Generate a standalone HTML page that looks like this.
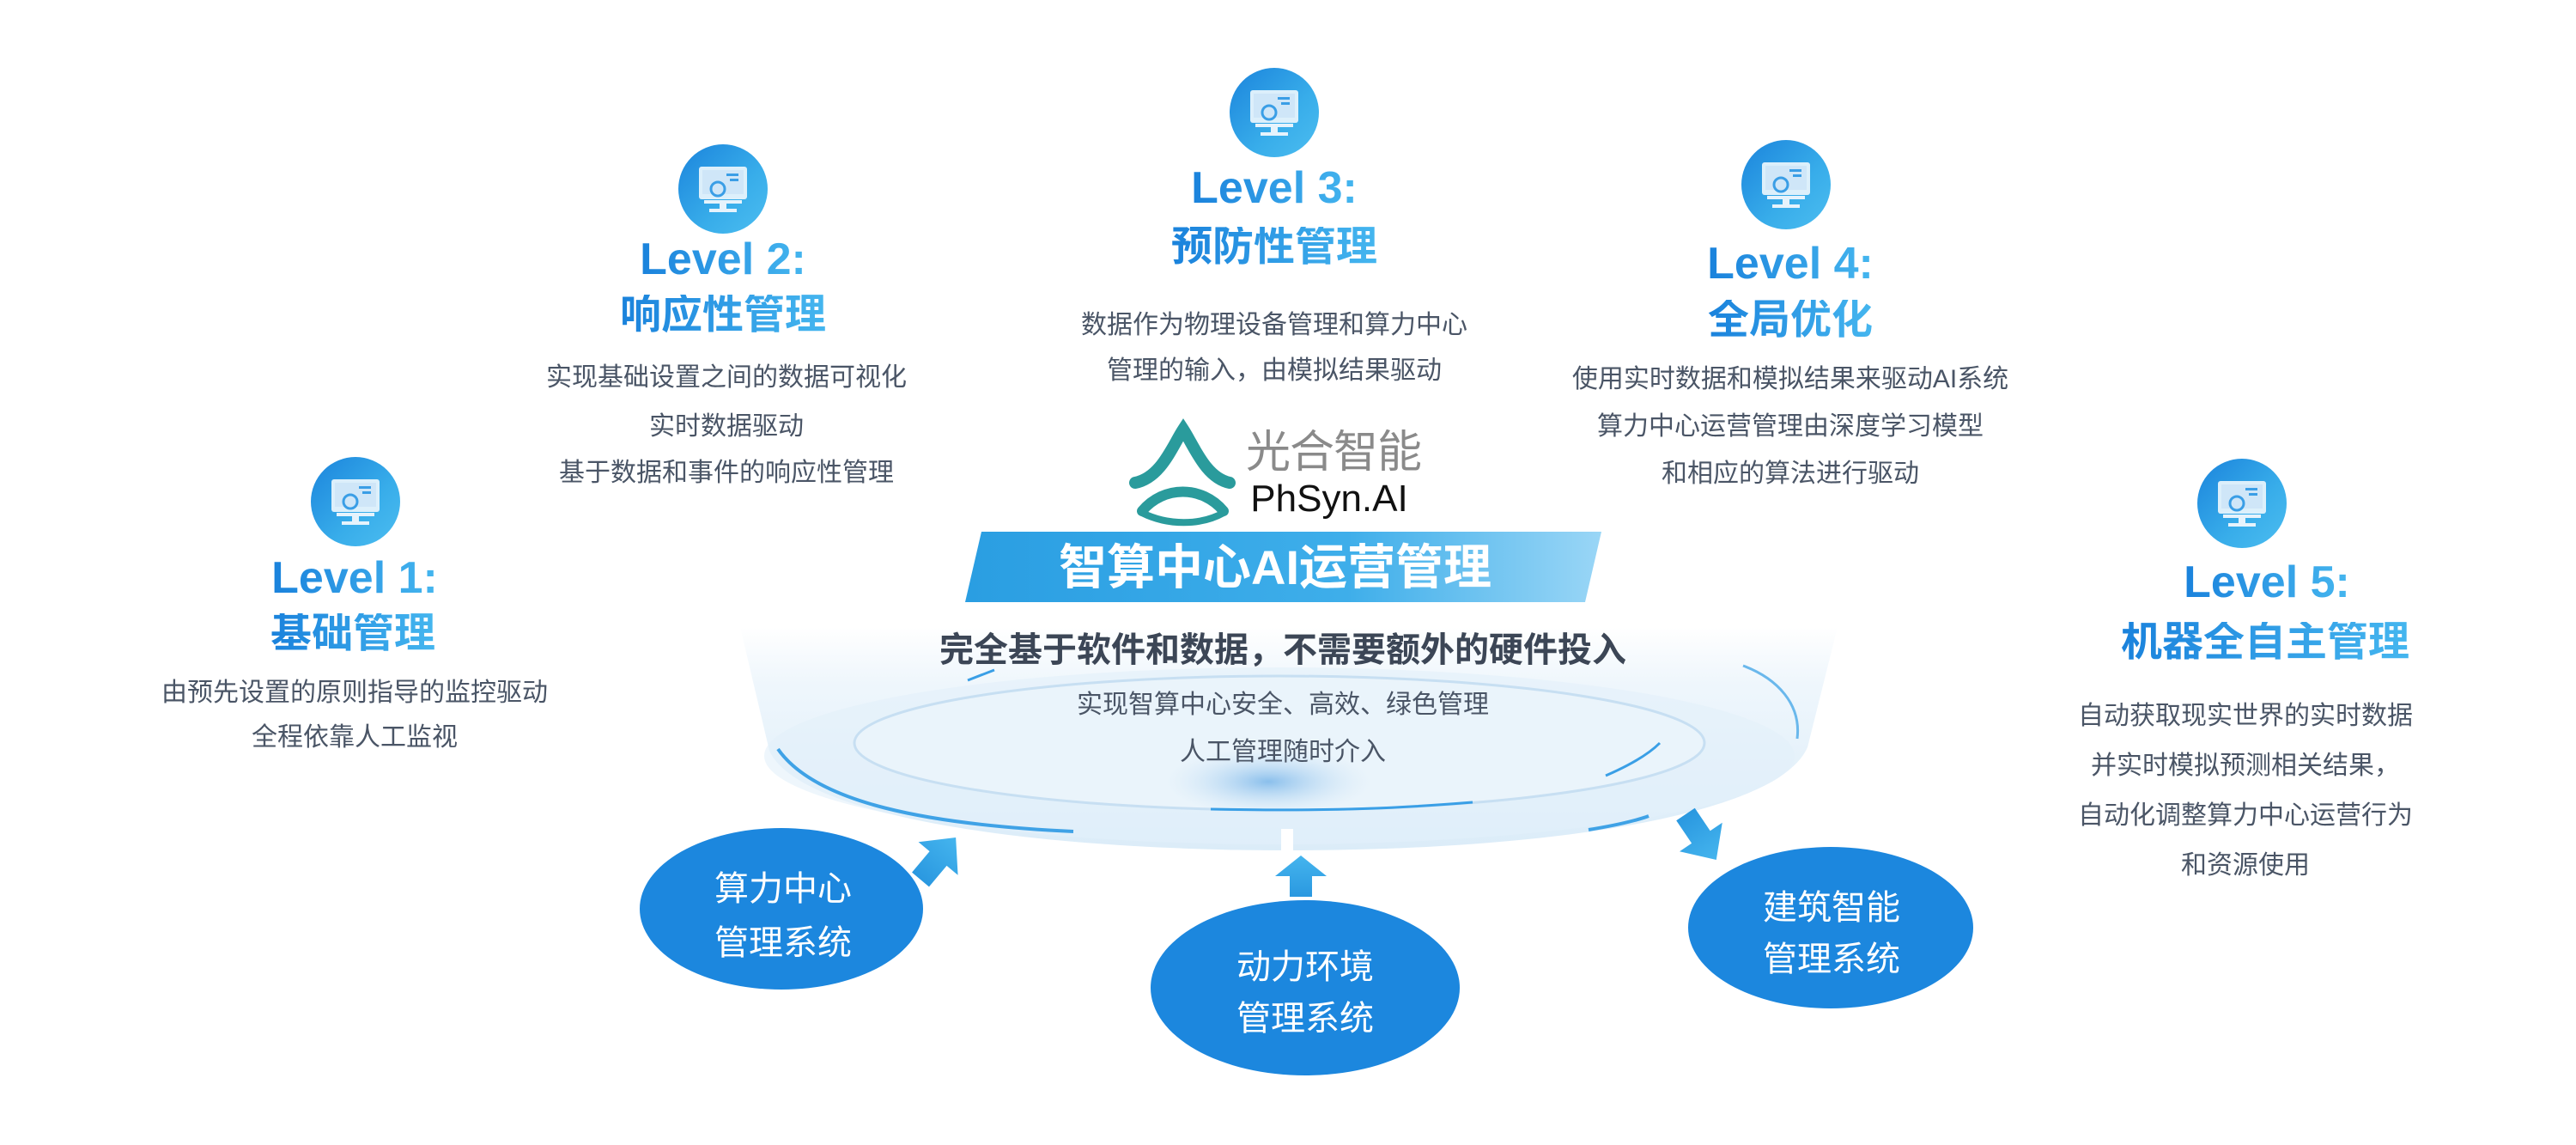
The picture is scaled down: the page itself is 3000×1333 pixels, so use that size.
<!DOCTYPE html>
<html><head><meta charset="utf-8">
<style>
html,body{margin:0;padding:0;background:#fff;}
#c{position:relative;width:3000px;height:1333px;overflow:hidden;background:#fff;font-family:"Liberation Sans","Noto Sans CJK SC",sans-serif;}
.t{position:absolute;transform:translate(-50%,-50%);white-space:nowrap;line-height:1;}
.lv{font-size:52px;font-weight:bold;color:#2490e2;background:linear-gradient(90deg,#1a82dc,#45b6ef);-webkit-background-clip:text;background-clip:text;-webkit-text-fill-color:transparent;}
.ti{font-size:48px;font-weight:bold;background:linear-gradient(90deg,#1a82dc,#45b6ef);-webkit-background-clip:text;background-clip:text;-webkit-text-fill-color:transparent;color:#2490e2;}
.d{font-size:30px;color:#4a5566;}
.b{font-size:40px;color:#fff;}
</style></head><body><div id="c">
<svg width="3000" height="1333" style="position:absolute;left:0;top:0">
<defs>
<linearGradient id="ig" x1="0" y1="0" x2="1" y2="1"><stop offset="0" stop-color="#1b84dc"/><stop offset="0.6" stop-color="#38adea"/><stop offset="1" stop-color="#4cbdf0"/></linearGradient>
<linearGradient id="bn" x1="0" y1="0" x2="1" y2="0"><stop offset="0" stop-color="#2a9ee2"/><stop offset="0.6" stop-color="#3eaeea"/><stop offset="1" stop-color="#9ad6f6"/></linearGradient>
<linearGradient id="dish" x1="0" y1="0" x2="0" y2="1"><stop offset="0" stop-color="#ffffff"/><stop offset="0.25" stop-color="#eef6fc"/><stop offset="1" stop-color="#d9ebf8"/></linearGradient>
<radialGradient id="glow" cx="0.5" cy="0.5" r="0.5"><stop offset="0" stop-color="#7fb9ea" stop-opacity="0.9"/><stop offset="1" stop-color="#cfe5f7" stop-opacity="0"/></radialGradient>
<linearGradient id="ar" x1="0" y1="0" x2="1" y2="0"><stop offset="0" stop-color="#2a98e0"/><stop offset="1" stop-color="#45b5ee"/></linearGradient>
<polygon id="arrow" points="0,-13 32,-13 32,-30 64,0 32,30 32,13 0,13" fill="url(#ar)"/>
<g id="icon">
<circle r="52" fill="url(#ig)"/>
<rect x="-28" y="-26" width="56" height="38" rx="3" fill="#e6f3fc" opacity="0.95"/>
<rect x="-24" y="-22" width="48" height="28" fill="#cfe6f8"/>
<rect x="4" y="-18" width="14" height="3" fill="#3a9ee6"/>
<rect x="8" y="-12" width="10" height="3" fill="#3a9ee6"/>
<circle cx="-6" cy="0" r="8" fill="none" stroke="#3a9ee6" stroke-width="3"/>
<rect x="-22" y="13" width="44" height="4" fill="#e6f3fc"/>
<rect x="-4" y="17" width="8" height="6" fill="#e6f3fc"/>
<rect x="-16" y="23" width="32" height="4" fill="#e6f3fc"/>
</g>
</defs>
<use href="#icon" x="414" y="584"/>
<use href="#icon" x="842" y="220"/>
<use href="#icon" x="1484" y="131"/>
<use href="#icon" x="2080" y="215"/>
<use href="#icon" x="2611" y="586"/>

<!-- logo -->
<g fill="none" stroke="#2a9b9c" stroke-linecap="round">
<path d="M1322,562 C1352,556 1365,520 1378,500 C1391,520 1404,556 1432,562" stroke-width="14"/>
<path d="M1330,595 C1355,565 1400,565 1425,595" stroke-width="12"/>
<path d="M1330,597 C1360,612 1398,612 1425,597" stroke-width="8"/>
</g>

<!-- banner -->
<polygon points="1143,619 1865,619 1846,701 1124,701" fill="url(#bn)"/>

<!-- dish -->
<path d="M862,730 L2140,730 L2105,870 C2070,950 1800,990 1500,990 C1200,990 930,950 896,874 Z" fill="url(#dish)" opacity="0.95"/>
<ellipse cx="1490" cy="880" rx="600" ry="103" fill="#e3f0fa" opacity="0.6"/>
<ellipse cx="1490" cy="865" rx="495" ry="78" fill="#eaf4fb" stroke="#c7dff2" stroke-width="3"/>
<ellipse cx="1477" cy="910" rx="120" ry="40" fill="url(#glow)"/>
<path d="M906,872 C950,935 1080,960 1250,968" fill="none" stroke="#3fa2e6" stroke-width="4"/>
<path d="M2093,860 C2098,820 2070,790 2030,775" fill="none" stroke="#6ab8ec" stroke-width="3"/>
<path d="M1850,966 C1900,958 1920,950 1920,950" fill="none" stroke="#3fa2e6" stroke-width="4"/>
<path d="M1410,942 C1560,945 1640,940 1715,934" fill="none" stroke="#3a9fe6" stroke-width="3"/>
<path d="M1870,903 C1900,890 1920,878 1933,865" fill="none" stroke="#3a9fe6" stroke-width="3"/>
<path d="M1127,792 L1158,780" stroke="#3a9fe6" stroke-width="3"/>
<rect x="1492" y="965" width="14" height="30" fill="#fff"/>

<!-- arrows -->
<use href="#arrow" transform="translate(1072,1024) rotate(-50)"/>
<use href="#arrow" transform="translate(1515,1044) rotate(-90) scale(0.75,1)"/>
<use href="#arrow" transform="translate(1963,948) rotate(56)"/>

<!-- bubbles -->
<ellipse cx="910" cy="1058" rx="165" ry="94" fill="#1c87de"/>
<ellipse cx="1520" cy="1150" rx="180" ry="102" fill="#1c87de"/>
<ellipse cx="2132" cy="1080" rx="166" ry="94" fill="#1c87de"/>
</svg>

<div class="t lv" style="left:413px;top:673px">Level 1:</div>
<div class="t ti" style="left:411px;top:738px">基础管理</div>
<div class="t d" style="left:413px;top:807px">由预先设置的原则指导的监控驱动</div>
<div class="t d" style="left:413px;top:859px">全程依靠人工监视</div>

<div class="t lv" style="left:842px;top:302px">Level 2:</div>
<div class="t ti" style="left:842px;top:367px">响应性管理</div>
<div class="t d" style="left:846px;top:440px">实现基础设置之间的数据可视化</div>
<div class="t d" style="left:846px;top:497px">实时数据驱动</div>
<div class="t d" style="left:846px;top:551px">基于数据和事件的响应性管理</div>

<div class="t lv" style="left:1484px;top:219px">Level 3:</div>
<div class="t ti" style="left:1484px;top:288px">预防性管理</div>
<div class="t d" style="left:1484px;top:379px">数据作为物理设备管理和算力中心</div>
<div class="t d" style="left:1484px;top:432px">管理的输入，由模拟结果驱动</div>

<div class="t lv" style="left:2085px;top:307px">Level 4:</div>
<div class="t ti" style="left:2085px;top:373px">全局优化</div>
<div class="t d" style="left:2085px;top:442px">使用实时数据和模拟结果来驱动AI系统</div>
<div class="t d" style="left:2085px;top:497px">算力中心运营管理由深度学习模型</div>
<div class="t d" style="left:2085px;top:552px">和相应的算法进行驱动</div>

<div class="t lv" style="left:2640px;top:678px">Level 5:</div>
<div class="t ti" style="left:2638px;top:748px">机器全自主管理</div>
<div class="t d" style="left:2615px;top:834px">自动获取现实世界的实时数据</div>
<div class="t d" style="left:2615px;top:892px">并实时模拟预测相关结果，</div>
<div class="t d" style="left:2615px;top:950px">自动化调整算力中心运营行为</div>
<div class="t d" style="left:2615px;top:1008px">和资源使用</div>

<div class="t" style="left:1553px;top:527px;font-size:52px;color:#8a8a8a;letter-spacing:-1px">光合智能</div>
<div class="t" style="left:1548px;top:581px;font-size:44px;color:#111">PhSyn.AI</div>

<div class="t" style="left:1485px;top:661px;font-size:56px;font-weight:bold;color:#fff">智算中心AI运营管理</div>

<div class="t" style="left:1494px;top:757px;font-size:40px;font-weight:bold;color:#3c4656">完全基于软件和数据，不需要额外的硬件投入</div>
<div class="t d" style="left:1494px;top:821px">实现智算中心安全、高效、绿色管理</div>
<div class="t d" style="left:1494px;top:876px">人工管理随时介入</div>

<div class="t b" style="left:912px;top:1035px">算力中心</div>
<div class="t b" style="left:912px;top:1098px">管理系统</div>
<div class="t b" style="left:1520px;top:1126px">动力环境</div>
<div class="t b" style="left:1520px;top:1186px">管理系统</div>
<div class="t b" style="left:2133px;top:1057px">建筑智能</div>
<div class="t b" style="left:2133px;top:1117px">管理系统</div>
</div></body></html>
